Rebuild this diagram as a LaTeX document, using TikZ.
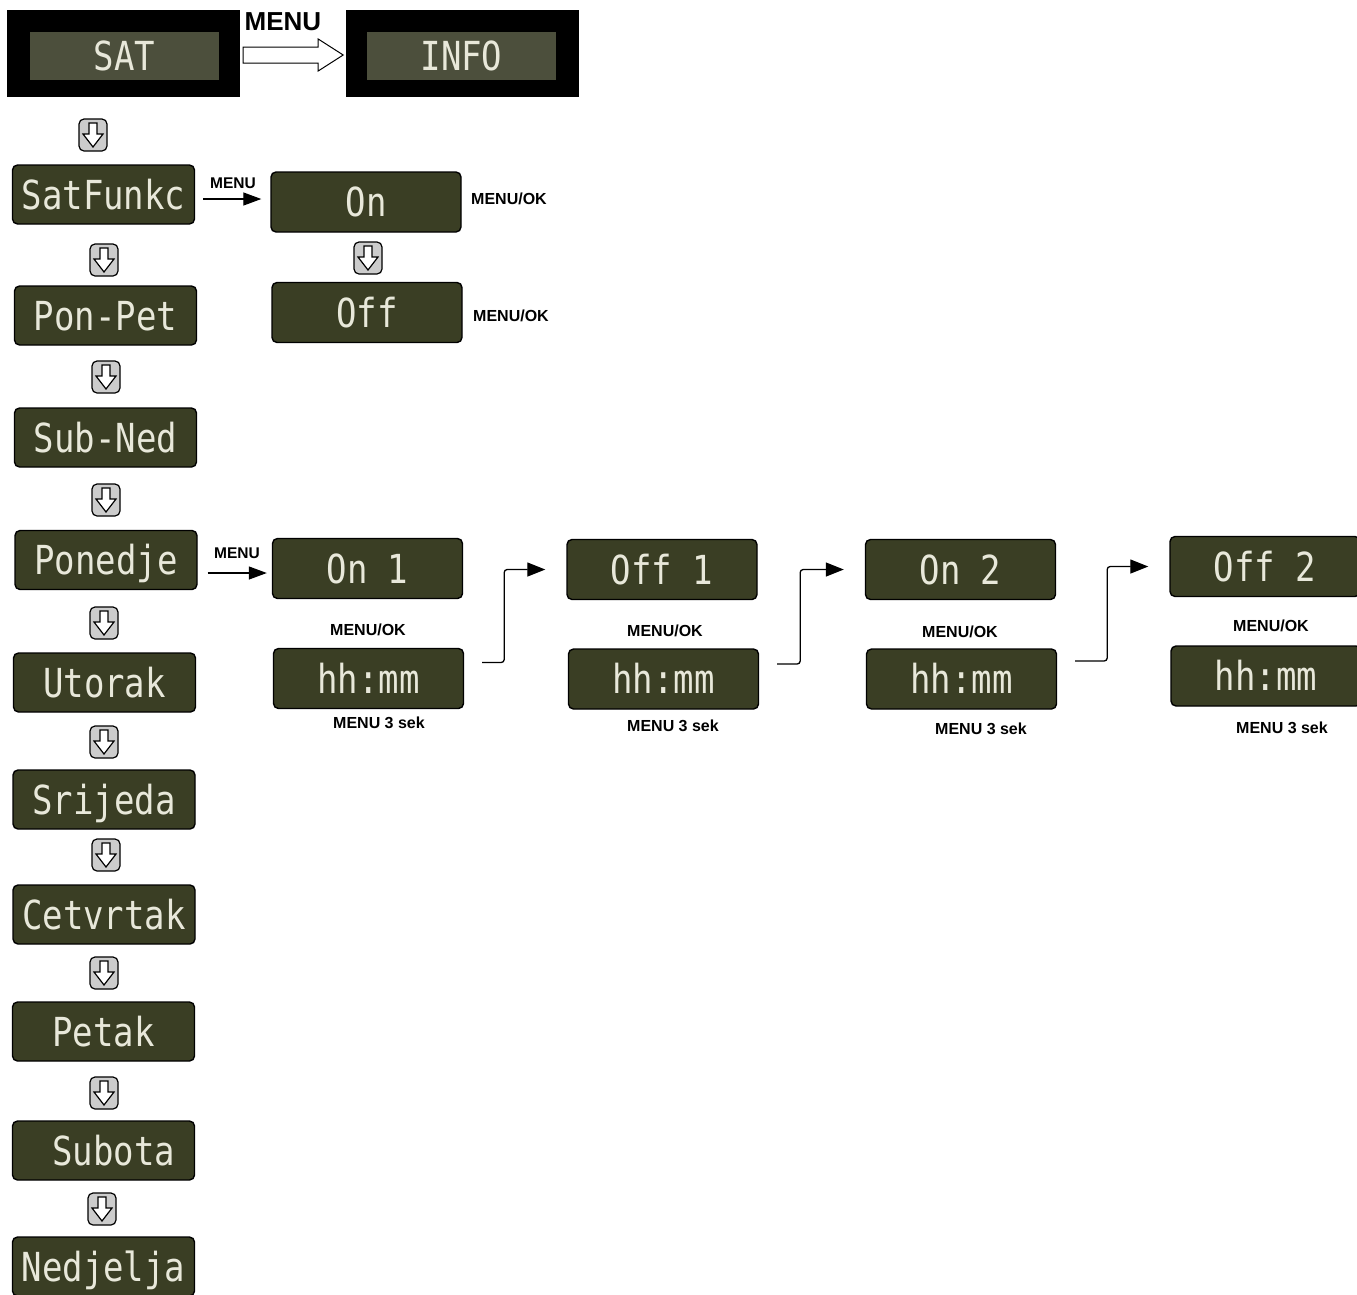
\documentclass[tikz,border=0pt]{standalone}
\usepackage{fontspec}
\setmainfont{Liberation Sans}
\newfontfamily\lcdfont[FakeStretch=0.85]{DejaVu Sans Mono}
\usetikzlibrary{
  calc,       % shifted anchors
  arrows.meta % solid arrow heads
}

\definecolor{lcdgreen}{RGB}{58,62,36}
\definecolor{lcdpanel}{RGB}{76,79,60}
\definecolor{lcdtext}{RGB}{232,232,218}
\definecolor{keygray}{RGB}{204,204,204}

\tikzset{
  lcd/.style={draw=black, line width=1.4pt, fill=lcdgreen, rounded corners=5pt,
    minimum width=182pt, minimum height=59pt, inner sep=0pt, text=lcdtext,
    text height=29pt, text depth=0pt, font={\lcdfont\fontsize{40}{40}\selectfont}},
  lcdwide/.style={lcd, minimum width=190pt, minimum height=60pt},
  screen/.style={fill=black, minimum width=233pt, minimum height=87pt, inner sep=0pt},
  panel/.style={fill=lcdpanel, minimum width=189pt, minimum height=48pt, inner sep=0pt,
    text=lcdtext, text height=29pt, text depth=0pt, font={\lcdfont\fontsize{40}{40}\selectfont}},
  keylabel/.style={font={\bfseries\fontsize{16}{16}\selectfont}},
  menuarrow/.style={-{Triangle[length=18pt,width=13pt]}, line width=1.3pt},
  elbow/.style={-{Triangle[length=18pt,width=14pt]}, line width=1.3pt,
    rounded corners=3pt, shorten <=18pt, shorten >=21pt},
  downkey/.pic={
    \draw[fill=keygray, rounded corners=5pt, line width=1.2pt] (-14,-16) rectangle (14,16);
    \draw[fill=white, line width=1.2pt, line join=miter]
      (-4,-12) -- (4,-12) -- (4,-1) -- (10,-1) -- (0,12) -- (-10,-1) -- (-4,-1) -- cycle;
  }
}

\begin{document}
\begin{tikzpicture}[x=1pt, y=-1pt]
    \useasboundingbox (0,0) rectangle (1357,1294);
    \clip (0,0) rectangle (1357,1294);

    % Top screens
    \node[screen] (sat) at (123.5,53.5) {};
    \node[panel] (satp) at (124.5,56) {SAT};
    \node[screen] (info) at (462,53.5) {};
    \node[panel] (infop) at (461.5,56) {INFO};
    \node[font={\bfseries\fontsize{26}{26}\selectfont}] (menutop) at (283,22) {MENU};

    % Hollow arrow SAT -> INFO
    \draw[fill=white, line width=1pt, line join=miter]
      ([shift={(3,-6.5)}]sat.east) -- ++(75,0) -- ++(0,-8) -- ++(25,16)
      -- ++(-25,16) -- ++(0,-8) -- ++(-75,0) -- cycle;

    % Left column
    \node[lcd] (sf) at (103.5,194.5) {SatFunkc};
    \node[lcd] (pp) at (105.5,315.5) {Pon-Pet};
    \node[lcd] (sn) at (105.5,437.5) {Sub-Ned};
    \node[lcd] (po) at (106,560) {Ponedje};
    \node[lcd] (ut) at (104.5,682.5) {Utorak};
    \node[lcd] (sr) at (104,799.5) {Srijeda};
    \node[lcd] (ce) at (104,914.5) {Cetvrtak};
    \node[lcd] (pe) at (103.5,1031.5) {Petak};
    \node[lcd] (su) at (103.5,1150.5) {\phantom{S}Subota};
    \node[lcd] (ne) at (103.5,1266.5) {Nedjelja};

    % Down keys
    \pic at (93,135) {downkey};
    \pic at (104,260) {downkey};
    \pic at (106,377) {downkey};
    \pic at (106,500) {downkey};
    \pic at (104,623) {downkey};
    \pic at (104,742) {downkey};
    \pic at (106,855) {downkey};
    \pic at (104,973) {downkey};
    \pic at (104,1093) {downkey};
    \pic at (102,1209) {downkey};
    \pic at (368,258) {downkey};

    % SatFunkc branch
    \node[lcdwide] (on) at (366,202) {On};
    \node[lcdwide] (off) at (367,312.5) {Off};
    \node[keylabel] (okon) at (509,199) {MENU/OK};
    \node[keylabel] (okoff) at (511,316) {MENU/OK};
    \draw[menuarrow, shorten <=8pt, shorten >=9pt] (sf.east |- 0,199) -- (on.west |- 0,199);
    \node[keylabel, font={\bfseries\fontsize{15.5}{15.5}\selectfont}] (msf) at (233,183) {MENU};

    % Ponedje branch
    \node[lcdwide] (on1) at (367.5,568.5) {On 1};
    \node[lcdwide] (h1) at (368.5,678.5) {hh:mm};
    \node[lcdwide] (of1) at (662,569.5) {Off 1};
    \node[lcdwide] (h2) at (663.5,679) {hh:mm};
    \node[lcdwide] (on2) at (960.5,569.5) {On 2};
    \node[lcdwide] (h3) at (961.5,679) {hh:mm};
    \node[lcdwide] (of2) at (1265,566.5) {Off 2};
    \node[lcdwide] (h4) at (1266,676) {hh:mm};
    \draw[menuarrow, shorten <=10pt, shorten >=5pt] (po.east |- 0,573) -- (on1.west |- 0,573);
    \node[keylabel, font={\bfseries\fontsize{15.5}{15.5}\selectfont}] (mpo) at (237,553) {MENU};

    % Key labels under the timers
    \node[keylabel] (ok1) at (368,630) {MENU/OK};
    \node[keylabel] (ok2) at (665,631) {MENU/OK};
    \node[keylabel] (ok3) at (960,632) {MENU/OK};
    \node[keylabel] (ok4) at (1271,626) {MENU/OK};
    \node[keylabel] (s1) at (379,723) {MENU 3 sek};
    \node[keylabel] (s2) at (673,726) {MENU 3 sek};
    \node[keylabel] (s3) at (981,729) {MENU 3 sek};
    \node[keylabel] (s4) at (1282,728) {MENU 3 sek};

    % Elbow connectors between timers
    \draw[elbow] ([yshift=16pt]h1.east) -- ++(40,0) |- (of1.west);
    \draw[elbow] ([yshift=15pt]h2.east) -- ++(41,0) |- (on2.west);
    \draw[elbow] ([yshift=18pt]h3.east) -- ++(50,0) |- (of2.west);

\end{tikzpicture}
\end{document}
